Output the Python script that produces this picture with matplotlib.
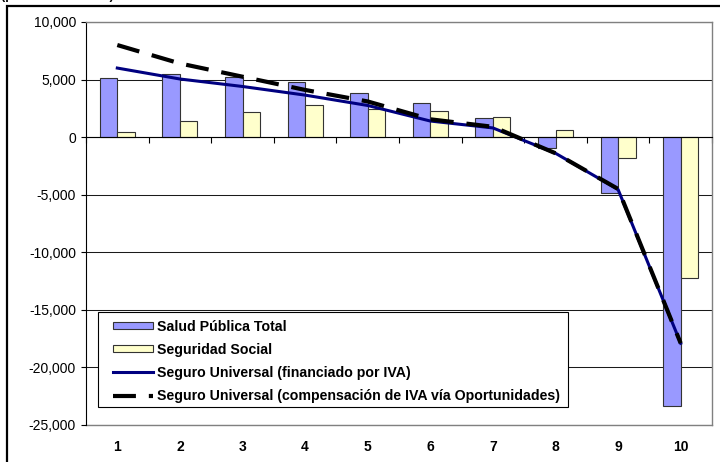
import matplotlib
matplotlib.use("Agg")
import matplotlib.pyplot as plt
import numpy as np
from matplotlib.patches import Rectangle
from matplotlib.ticker import FuncFormatter, FixedLocator

plt.rcParams["font.family"] = ["Liberation Sans", "DejaVu Sans"]

# Deciles of household income
deciles = [1, 2, 3, 4, 5, 6, 7, 8, 9, 10]
decile_labels = ["1", "2", "3", "4", "5", "6", "7", "8", "9", "10"]

# Net transfer by decile
salud_publica = [5100, 5500, 5200, 4800, 3850, 2950, 1650, -950, -4850, -23350]
seguridad_social = [450, 1400, 2150, 2830, 2480, 2310, 1790, 580, -1770, -12230]
seguro_iva = [6000, 5050, 4400, 3650, 2750, 1400, 800, -1400, -4550, -17900]
seguro_oportunidades = [8000, 6400, 5250, 4100, 3100, 1550, 900, -1400, -4500, -17900]

series_names = [
    "Salud Pública Total",
    "Seguridad Social",
    "Seguro Universal (financiado por IVA)",
    "Seguro Universal (compensación de IVA vía Oportunidades)",
]
y_ticks = [10000, 5000, 0, -5000, -10000, -15000, -20000, -25000]

W, H = 720, 462
fig = plt.figure(figsize=(W / 100, H / 100), dpi=100)
ax = fig.add_axes([86 / W, 1 - 425 / H, (712 - 86) / W, (425 - 22) / H])

x = np.array(deciles, dtype=float)
bw = 0.28
b1 = ax.bar(x - bw / 2, salud_publica, bw, color="#9999FF", edgecolor="#333333",
            linewidth=0.8, zorder=2)
b2 = ax.bar(x + bw / 2, seguridad_social, bw, color="#FFFFCC", edgecolor="#333333",
            linewidth=0.8, zorder=2)
l1, = ax.plot(x, seguro_iva, color="#000080", lw=2.2, zorder=3)
l2, = ax.plot(x, seguro_oportunidades, color="black", lw=3, dashes=(5.5, 3.1),
              zorder=4)

ax.set_xlim(0.5, 10.5)
ax.set_ylim(-25000, 10000)

# Horizontal gridlines
ax.yaxis.set_major_locator(FixedLocator(y_ticks))
ax.yaxis.set_major_formatter(FuncFormatter(lambda v, p: f"{v:,.0f}"))
ax.grid(axis="y", color="#1a1a1a", lw=0.75, zorder=0)
ax.set_axisbelow(True)
ax.tick_params(axis="y", direction="out", length=3.5, width=0.8, pad=3.7,
               labelsize=10, colors="black")

# Category axis drawn along zero, ticks between groups
ax.spines["bottom"].set_position(("data", 0))
ax.spines["bottom"].set_color("black")
ax.spines["bottom"].set_linewidth(0.8)
ax.spines["bottom"].set_zorder(3)
ax.set_xticks(np.arange(0.5, 11, 1.0))
ax.tick_params(axis="x", direction="out", length=4, width=0.8, labelbottom=False)

ax.spines["left"].set_color("black")
ax.spines["left"].set_linewidth(0.8)
for s in ("top", "right"):
    ax.spines[s].set_color("#808080")
    ax.spines[s].set_linewidth(1.0)

# Decile labels along the bottom of the plot area
sec = ax.secondary_xaxis("bottom")
sec.set_xticks(deciles)
sec.set_xticklabels(decile_labels, fontweight="bold", fontsize=10)
sec.tick_params(length=0, pad=10.5)
sec.spines["bottom"].set_color("#808080")
sec.spines["bottom"].set_linewidth(1.0)

# Legend with a boxed white background
box = Rectangle((98 / W, 1 - 407 / H), (568 - 98) / W, (407 - 312) / H,
                transform=fig.transFigure, facecolor="white", edgecolor="black",
                lw=0.8, zorder=5)
ax.add_patch(box)
leg = ax.legend([b1, b2, l1, l2], series_names,
                loc="upper left", bbox_to_anchor=(108.8 / W, 1 - 315.5 / H),
                bbox_transform=fig.transFigure, borderaxespad=0, borderpad=0.3,
                frameon=False, prop={"weight": "bold", "size": 10.2},
                handlelength=2.85, handleheight=0.43, handletextpad=0.22,
                labelspacing=0.64)
leg.set_zorder(6)

# Outer chart frame and the title line above it
fig.add_artist(Rectangle((7 / W, -0.2), 1.3, 1.2 - 5.5 / H,
                         transform=fig.transFigure, fill=False,
                         edgecolor="black", lw=1.6, clip_on=False))
fig.text(1 / W, 1 + 1.5 / H, "(pesos mensuales)", fontsize=9, fontweight="bold",
         ha="left", va="baseline")

fig.savefig("out.png", dpi=100)
